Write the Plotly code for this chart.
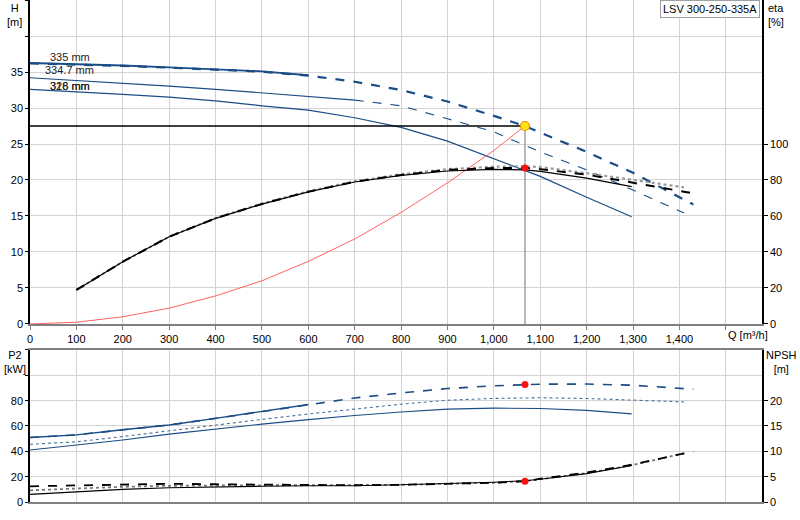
import plotly.graph_objects as go

# --- data ---
q_full = [0, 100, 200, 300, 400, 500, 600, 700, 800, 900, 1000, 1067, 1100, 1200, 1300, 1430]
q_328 = [0, 100, 200, 300, 400, 500, 600, 700, 800, 900, 1000, 1067, 1100, 1200, 1300, 1410]
q_316 = [0, 100, 200, 300, 400, 500, 600, 700, 800, 900, 1000, 1067, 1100, 1200, 1297]
q_335 = [0, 100, 200, 300, 400, 500, 600]

h_335 = [36.25, 36.1, 35.9, 35.65, 35.4, 35.1, 34.55]
h_3347 = [36.2, 36.05, 35.85, 35.6, 35.35, 35.05, 34.5, 33.65, 32.5, 30.9, 28.9, 27.5, 26.6, 23.9, 21.0, 16.6]
h_328 = [34.2, 33.85, 33.5, 33.05, 32.6, 32.1, 31.7, 31.1, 30.3, 28.5, 26.7, 24.8, 23.9, 21.4, 18.6, 15.4]
h_316 = [32.6, 32.3, 31.9, 31.5, 31.0, 30.3, 29.7, 28.65, 27.3, 25.4, 23.0, 21.4, 20.5, 17.6, 14.9]

eta_3347 = [18.9, 34.6, 48.5, 58.7, 66.7, 73.5, 79.0, 82.8, 85.6, 86.6, 86.7, 86.0, 83.0, 78.5, 72.6]
eta_328 = [18.9, 34.6, 48.5, 58.8, 66.9, 73.7, 79.3, 83.2, 86.0, 87.4, 87.6, 87.2, 83.8, 79.9, 75.9]
eta_316 = [18.9, 34.6, 48.5, 58.7, 66.6, 73.4, 78.9, 82.6, 85.0, 85.9, 85.6, 84.8, 81.0, 76.3]

sys_q = [0, 100, 200, 300, 400, 500, 600, 700, 800, 900, 1000, 1067]
sys_h = [0, 0.25, 1.0, 2.2, 3.9, 6.0, 8.7, 11.8, 15.5, 19.6, 24.1, 27.5]

p2_3347 = [50.9, 53.0, 57.0, 60.8, 66.0, 71.5, 77.0, 82.1, 86.1, 89.6, 91.7, 92.8, 93.0, 93.1, 92.2, 89.0]
p2_328 = [45.6, 47.5, 51.7, 56.3, 60.8, 65.2, 69.5, 73.6, 77.2, 80.3, 81.8, 82.1, 82.3, 81.7, 80.6, 79.0]
p2_316 = [41.1, 44.8, 49.0, 53.6, 57.6, 61.5, 65.0, 68.3, 71.0, 73.3, 74.1, 74.1, 73.8, 72.3, 69.6]

npsh_3347 = [3.1, 3.3, 3.5, 3.6, 3.5, 3.4, 3.3, 3.3, 3.4, 3.6, 3.8, 4.1, 4.6, 5.8, 7.4, 10.0]
npsh_328 = [2.3, 2.7, 3.0, 3.2, 3.3, 3.3, 3.3, 3.3, 3.4, 3.6, 3.8, 4.1, 4.5, 5.7, 7.3, 9.6]
npsh_316 = [1.5, 2.0, 2.5, 2.8, 3.0, 3.1, 3.2, 3.2, 3.4, 3.6, 3.9, 4.2, 4.5, 5.6, 7.2]

duty_q = 1067
duty_h = 27.5
duty_eta = 86.7
duty_p2 = 92.8
duty_npsh = 4.07

x_ticks = list(range(0, 1600, 100))
h_ticks = list(range(0, 50, 5))
eta_ticks = list(range(0, 120, 20))
p2_ticks = list(range(0, 140, 20))
npsh_ticks = list(range(0, 25, 5))

BLUE = "#1a4c86"
FONT = "Liberation Sans"

fig = go.Figure()


def line(x, y, xa, ya, color, width, dash="solid"):
    fig.add_trace(go.Scatter(x=x, y=y, xaxis=xa, yaxis=ya, mode="lines",
                             line=dict(color=color, width=width, dash=dash),
                             hoverinfo="skip", showlegend=False))


# head curves
line(q_full, h_3347, "x", "y", BLUE, 2.2, "dash")
line(q_335, h_335, "x", "y", BLUE, 1.8)
line(q_328[:8], h_328[:8], "x", "y", BLUE, 1.2)
line(q_328[7:], h_328[7:], "x", "y", BLUE, 1.1, "dash")
line(q_316, h_316, "x", "y", BLUE, 1.2)

# efficiency curves
line(q_328[1:], eta_328, "x", "y2", "#9a9a9a", 2.2, "dot")
line(q_full[1:], eta_3347, "x", "y2", "black", 2.0, "dash")
line(q_316[1:], eta_316, "x", "y2", "black", 1.2)

# system curve and duty lines
line(sys_q, sys_h, "x", "y", "#ff5050", 0.9)
line([0, duty_q], [duty_h, duty_h], "x", "y", "black", 1.5)
line([duty_q, duty_q], [duty_h, 0], "x", "y", "#8a8a8a", 1.2)

# power curves
line(q_full, p2_3347, "x2", "y3", BLUE, 1.6, "dash")
line(q_335, p2_3347[:7], "x2", "y3", BLUE, 1.4)
line(q_328, p2_328, "x2", "y3", "#4a6e9c", 1.1, "dot")
line(q_316, p2_316, "x2", "y3", BLUE, 1.1)

# npsh curves
line(q_328, npsh_328, "x2", "y4", "#777777", 1.8, "dot")
line(q_full, npsh_3347, "x2", "y4", "black", 1.8, "dash")
line(q_316, npsh_316, "x2", "y4", "black", 1.1)

# duty markers
fig.add_trace(go.Scatter(x=[duty_q], y=[duty_eta], xaxis="x", yaxis="y2", mode="markers",
                         marker=dict(color="#ff1010", size=7), showlegend=False, hoverinfo="skip"))
fig.add_trace(go.Scatter(x=[duty_q], y=[duty_h], xaxis="x", yaxis="y", mode="markers",
                         marker=dict(color="#ffe41a", size=9, line=dict(color="#f08a00", width=1.2)),
                         showlegend=False, hoverinfo="skip"))
fig.add_trace(go.Scatter(x=[duty_q], y=[duty_p2], xaxis="x2", yaxis="y3", mode="markers",
                         marker=dict(color="#ff1010", size=7), showlegend=False, hoverinfo="skip"))
fig.add_trace(go.Scatter(x=[duty_q], y=[duty_npsh], xaxis="x2", yaxis="y4", mode="markers",
                         marker=dict(color="#ff1010", size=7), showlegend=False, hoverinfo="skip"))

grid = "#d4d4d4"
tickfont = dict(family=FONT, size=11, color="black")
x_range = [0, 1578]

fig.update_layout(
    width=800, height=520,
    margin=dict(l=30, r=38, t=0, b=18),
    paper_bgcolor="white", plot_bgcolor="white",
    font=dict(family=FONT, size=11, color="black"),
    separators=".,",
    xaxis=dict(domain=[0, 1], range=x_range, anchor="y", automargin=False,
               tickvals=x_ticks, ticktext=[f"{v:,}" if v < 1500 else "" for v in x_ticks],
               showgrid=True, gridcolor=grid, zeroline=False,
               showline=True, linecolor="#808080", linewidth=2,
               ticks="outside", ticklen=4, tickcolor="#808080", tickfont=tickfont),
    yaxis=dict(domain=[0.3546, 1], range=[0, 45], anchor="x", automargin=False,
               tickvals=h_ticks, ticktext=[str(v) if v <= 35 else "" for v in h_ticks],
               showgrid=True, gridcolor=grid, zeroline=False,
               showline=True, linecolor="black", linewidth=1.5,
               ticks="outside", ticklen=3, tickcolor="black", tickfont=tickfont),
    yaxis2=dict(overlaying="y", side="right", anchor="x", range=[0, 180], automargin=False,
                tickvals=eta_ticks, showgrid=False, zeroline=False,
                showline=True, linecolor="black", linewidth=1.5,
                ticks="outside", ticklen=4, tickcolor="black", tickfont=tickfont),
    xaxis2=dict(domain=[0, 1], range=x_range, anchor="y3", automargin=False,
                tickvals=x_ticks, showticklabels=False,
                showgrid=True, gridcolor=grid, zeroline=False,
                showline=True, linecolor="#808080", linewidth=2, mirror=True),
    yaxis3=dict(domain=[0, 0.3028], range=[0, 120], anchor="x2", automargin=False,
                tickvals=p2_ticks, ticktext=[str(v) if v <= 80 else "" for v in p2_ticks],
                showgrid=True, gridcolor=grid, zeroline=False,
                showline=True, linecolor="black", linewidth=1.5,
                ticks="outside", ticklen=3, tickcolor="black", tickfont=tickfont),
    yaxis4=dict(overlaying="y3", side="right", anchor="x2", range=[0, 30], automargin=False,
                tickvals=npsh_ticks, showgrid=False, zeroline=False,
                showline=True, linecolor="black", linewidth=1.5,
                ticks="outside", ticklen=4, tickcolor="black", tickfont=tickfont),
)

ann = []
# axis titles
ann.append(dict(text="H<br>[m]", xref="paper", yref="paper", x=-0.0205, y=1.0,
                xanchor="center", yanchor="top", showarrow=False))
ann.append(dict(text="eta<br>[%]", xref="paper", yref="paper", x=1.005, y=1.0,
                xanchor="left", yanchor="top", showarrow=False, align="left"))
ann.append(dict(text="P2<br>[kW]", xref="paper", yref="paper", x=-0.0205, y=0.308,
                xanchor="center", yanchor="top", showarrow=False))
ann.append(dict(text="NPSH<br>[m]", xref="paper", yref="paper", x=1.003, y=0.308,
                xanchor="left", yanchor="top", showarrow=False, align="center"))
ann.append(dict(text="Q [m³/h]", xref="x", yref="paper", x=1500, y=0.348,
                xanchor="left", yanchor="top", showarrow=False))
# product name box
ann.append(dict(text="LSV 300-250-335A", xref="paper", yref="paper", x=0.997, y=1.0,
                xanchor="right", yanchor="top", showarrow=False,
                bordercolor="#a0a0a0", borderwidth=1, borderpad=2, bgcolor="white"))
# impeller diameter labels
for txt, qx, hy in [("335 mm", 38, 37.1), ("334.7 mm", 29, 35.3),
                    ("316 mm", 38, 33.0), ("328 mm", 38, 33.0)]:
    ann.append(dict(text=txt, xref="x", yref="y", x=qx, y=hy, xanchor="left",
                    yanchor="middle", showarrow=False, font=dict(size=11, color="#222")))
fig.update_layout(annotations=ann)

# page body has a default 8px margin; drop it so the figure fills the window
fig.write_html("out.html", config={"displayModeBar": False},
               post_script="document.body.style.margin='0';")
